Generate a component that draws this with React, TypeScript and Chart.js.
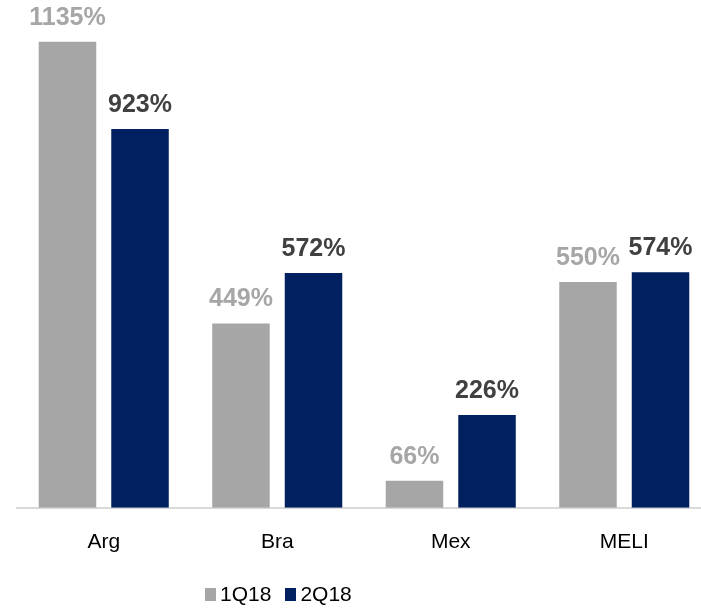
import React, { useEffect, useRef } from "react";
import { Chart, registerables } from "chart.js";

Chart.register(...registerables);

const categories = ["Arg", "Bra", "Mex", "MELI"];
const series1Label = "1Q18";
const series2Label = "2Q18";
const series1 = [1135, 449, 66, 550];
const series2 = [923, 572, 226, 574];

const GRAY = "#a6a6a6";
const NAVY = "#002060";
const FONT = "'Liberation Sans', Arial, sans-serif";

const valueLabels = {
  id: "valueLabels",
  afterDatasetsDraw(chart: any) {
    const ctx = chart.ctx;
    ctx.save();
    ctx.font = `bold 25px ${FONT}`;
    ctx.textAlign = "center";
    ctx.textBaseline = "alphabetic";
    chart.data.datasets.forEach((ds: any, di: number) => {
      const meta = chart.getDatasetMeta(di);
      ctx.fillStyle = di === 0 ? GRAY : "#404040";
      meta.data.forEach((bar: any, i: number) => {
        ctx.fillText(ds.data[i] + "%", bar.x, bar.y - 17);
      });
    });
    ctx.restore();
  },
};

export default function App() {
  const ref = useRef<HTMLCanvasElement | null>(null);
  useEffect(() => {
    if (!ref.current) return;
    const chart = new Chart(ref.current, {
      type: "bar",
      data: {
        labels: categories,
        datasets: [
          { label: series1Label, data: series1, backgroundColor: GRAY },
          { label: series2Label, data: series2, backgroundColor: NAVY },
        ],
      },
      options: {
        animation: false,
        responsive: false,
        devicePixelRatio: 1,
        categoryPercentage: 0.836,
        barPercentage: 0.793,
        layout: { padding: { left: 17, right: 0, top: 0, bottom: 40 } },
        plugins: { legend: { display: false }, tooltip: { enabled: false } },
        scales: {
          x: {
            grid: { display: false },
            border: { display: true, color: "#d9d9d9", width: 2 },
            ticks: { color: "#000", font: { family: FONT, size: 21 }, padding: 14 },
          },
          y: { display: false, min: 0, max: 1237 },
        },
      },
      plugins: [valueLabels],
    });
    return () => chart.destroy();
  }, []);

  return (
    <div style={{ position: "fixed", left: 0, top: 0, width: 701, height: 609, overflow: "hidden", background: "#fff" }}>
      <canvas ref={ref} width={711} height={609} style={{ position: "absolute", left: 0, top: 0, width: 711, height: 609 }} />
      <div
        style={{
          position: "absolute",
          left: 205,
          top: 582,
          display: "flex",
          alignItems: "center",
          fontFamily: FONT,
          fontSize: 21,
          color: "#000",
          whiteSpace: "nowrap",
        }}
      >
        <span style={{ display: "inline-block", width: 11, height: 13, background: GRAY, marginRight: 4 }} />
        <span style={{ marginRight: 14 }}>{series1Label}</span>
        <span style={{ display: "inline-block", width: 11, height: 13, background: NAVY, marginRight: 4 }} />
        <span>{series2Label}</span>
      </div>
    </div>
  );
}
